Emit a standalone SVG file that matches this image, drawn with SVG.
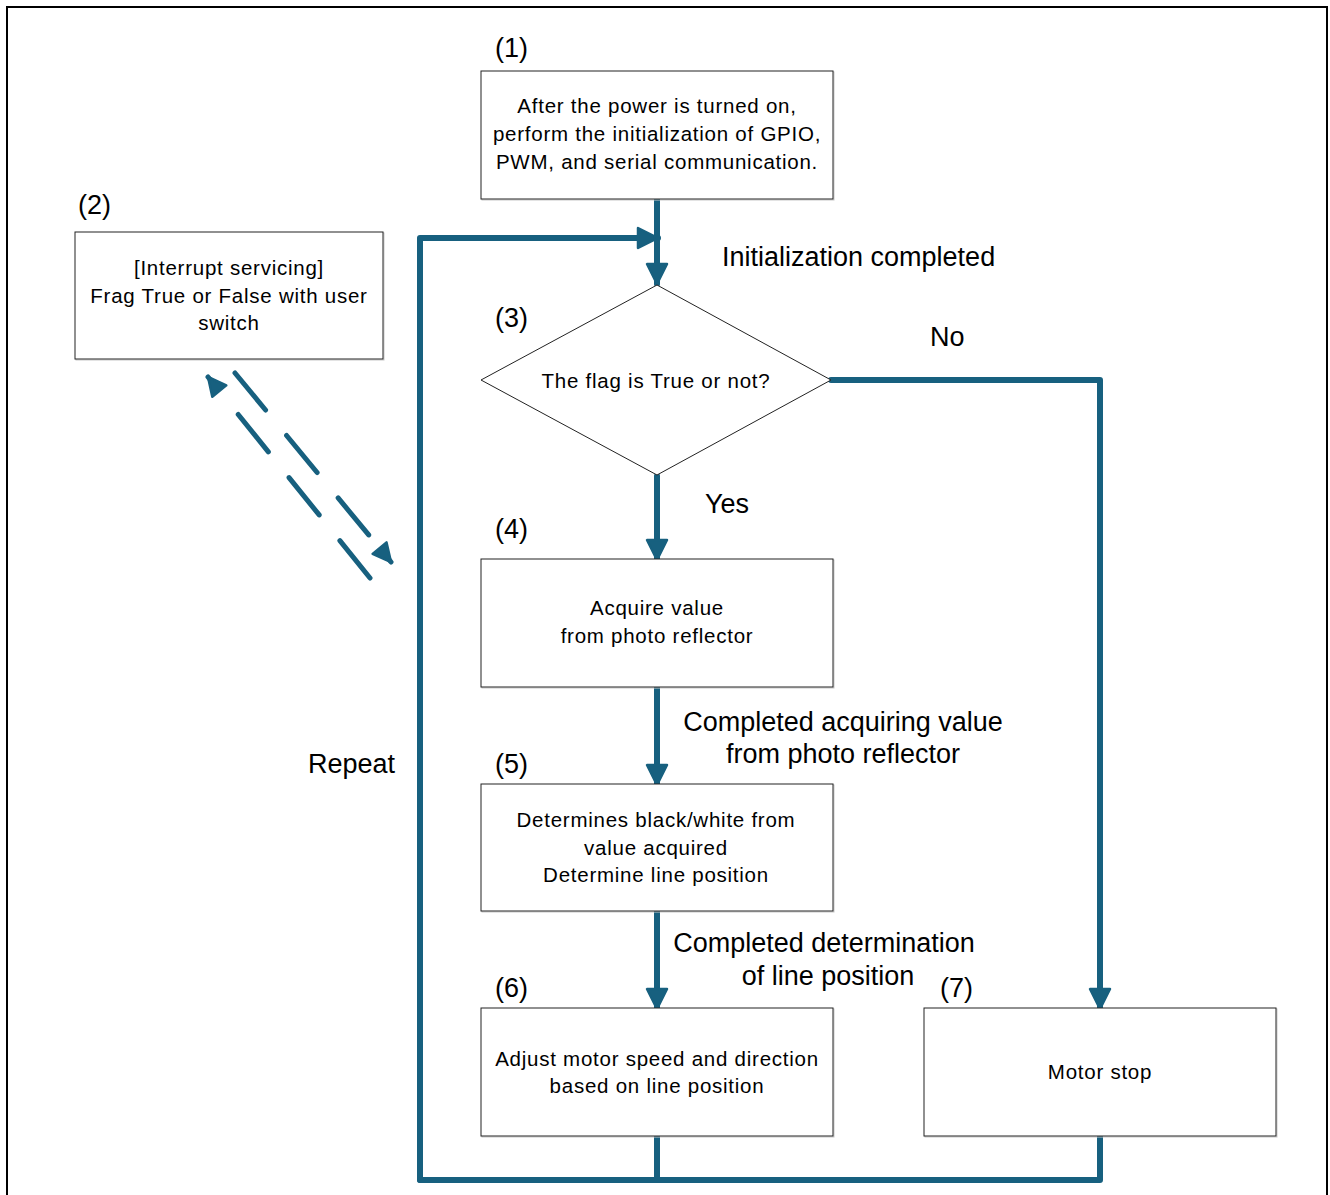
<svg xmlns="http://www.w3.org/2000/svg" width="1330" height="1195" viewBox="0 0 1330 1195">
<style>
.box{fill:#fff;stroke:#222;stroke-width:1}
.sh{fill:none;stroke:#c8c8c8;stroke-width:1}
.t{font-family:"Liberation Sans",Arial,sans-serif;font-size:20.5px;letter-spacing:0.75px;fill:#000;text-anchor:middle}
.l{font-family:"Liberation Sans",Arial,sans-serif;font-size:27px;fill:#000}
.c{fill:none;stroke:#17607f;stroke-width:6;stroke-linecap:round;stroke-linejoin:round}
.d{fill:none;stroke:#17607f;stroke-width:5;stroke-linecap:round;stroke-dasharray:48 33}
</style>
<defs>
<marker id="ah" markerUnits="userSpaceOnUse" markerWidth="24" markerHeight="24" viewBox="0 0 24 24" refX="22" refY="12" orient="auto">
<path d="M2,2 L22,12 L2,22 Z" fill="#17607f" stroke="#17607f" stroke-width="2.5" stroke-linejoin="round"/>
</marker>
<marker id="ad" markerUnits="userSpaceOnUse" markerWidth="22" markerHeight="22" viewBox="0 0 22 22" refX="20" refY="11" orient="auto">
<path d="M2,2 L20,11 L2,20 Z" fill="#17607f" stroke="#17607f" stroke-width="2.5" stroke-linejoin="round"/>
</marker>
</defs>
<rect x="7" y="7" width="1320" height="1210" fill="#fff" stroke="#000" stroke-width="2"/>

<g id="connectors">
<path class="c" d="M657,199 L657,284" marker-end="url(#ah)"/>
<path class="c" d="M420,1180 L420,238 L658,238" marker-end="url(#ah)"/>
<path class="c" d="M657,476 L657,560" marker-end="url(#ah)"/>
<path class="c" d="M657,687 L657,785" marker-end="url(#ah)"/>
<path class="c" d="M657,911 L657,1009" marker-end="url(#ah)"/>
<path class="c" d="M831,380 L1100,380 L1100,1009" marker-end="url(#ah)"/>
<path class="c" d="M657,1137 L657,1180 M420,1180 L1100,1180 L1100,1137"/>
<path class="d" d="M370,578 L208,377" marker-end="url(#ad)"/>
<path class="d" d="M235,373 L391,562" marker-end="url(#ad)"/>
</g>

<g id="n1">
<rect class="sh" x="482" y="72" width="352" height="128"/>
<rect class="box" x="481" y="71" width="352" height="128"/>
<text class="t" x="657" y="113">After the power is turned on,</text>
<text class="t" x="657" y="141">perform the initialization of GPIO,</text>
<text class="t" x="657" y="169">PWM, and serial communication.</text>
</g>
<g id="n2">
<rect class="sh" x="76" y="233" width="308" height="127"/>
<rect class="box" x="75" y="232" width="308" height="127"/>
<text class="t" x="229" y="275">[Interrupt servicing]</text>
<text class="t" x="229" y="303">Frag True or False with user</text>
<text class="t" x="229" y="330">switch</text>
</g>
<g id="n3">
<polygon points="657,285 831,380 657,475 481,380" fill="#fff" stroke="#222" stroke-width="1"/>
<text class="t" x="656" y="388">The flag is True or not?</text>
</g>
<g id="n4">
<rect class="sh" x="482" y="560" width="352" height="128"/>
<rect class="box" x="481" y="559" width="352" height="128"/>
<text class="t" x="657" y="615">Acquire value</text>
<text class="t" x="657" y="643">from photo reflector</text>
</g>
<g id="n5">
<rect class="sh" x="482" y="785" width="352" height="127"/>
<rect class="box" x="481" y="784" width="352" height="127"/>
<text class="t" x="656" y="827">Determines black/white from</text>
<text class="t" x="656" y="855">value acquired</text>
<text class="t" x="656" y="882">Determine line position</text>
</g>
<g id="n6">
<rect class="sh" x="482" y="1009" width="352" height="128"/>
<rect class="box" x="481" y="1008" width="352" height="128"/>
<text class="t" x="657" y="1066">Adjust motor speed and direction</text>
<text class="t" x="657" y="1093">based on line position</text>
</g>
<g id="n7">
<rect class="sh" x="925" y="1009" width="352" height="128"/>
<rect class="box" x="924" y="1008" width="352" height="128"/>
<text class="t" x="1100" y="1079">Motor stop</text>
</g>

<g id="labels">
<text class="l" x="495" y="57">(1)</text>
<text class="l" x="78" y="214">(2)</text>
<text class="l" x="495" y="327">(3)</text>
<text class="l" x="495" y="538">(4)</text>
<text class="l" x="495" y="773">(5)</text>
<text class="l" x="495" y="997">(6)</text>
<text class="l" x="940" y="997">(7)</text>
<text class="l" x="722" y="266">Initialization completed</text>
<text class="l" x="930" y="346">No</text>
<text class="l" x="705" y="513">Yes</text>
<text class="l" x="308" y="773">Repeat</text>
<text class="l" x="843" y="731" text-anchor="middle">Completed acquiring value</text>
<text class="l" x="843" y="763" text-anchor="middle">from photo reflector</text>
<text class="l" x="824" y="952" text-anchor="middle">Completed determination</text>
<text class="l" x="828" y="985" text-anchor="middle">of line position</text>
</g>
</svg>
